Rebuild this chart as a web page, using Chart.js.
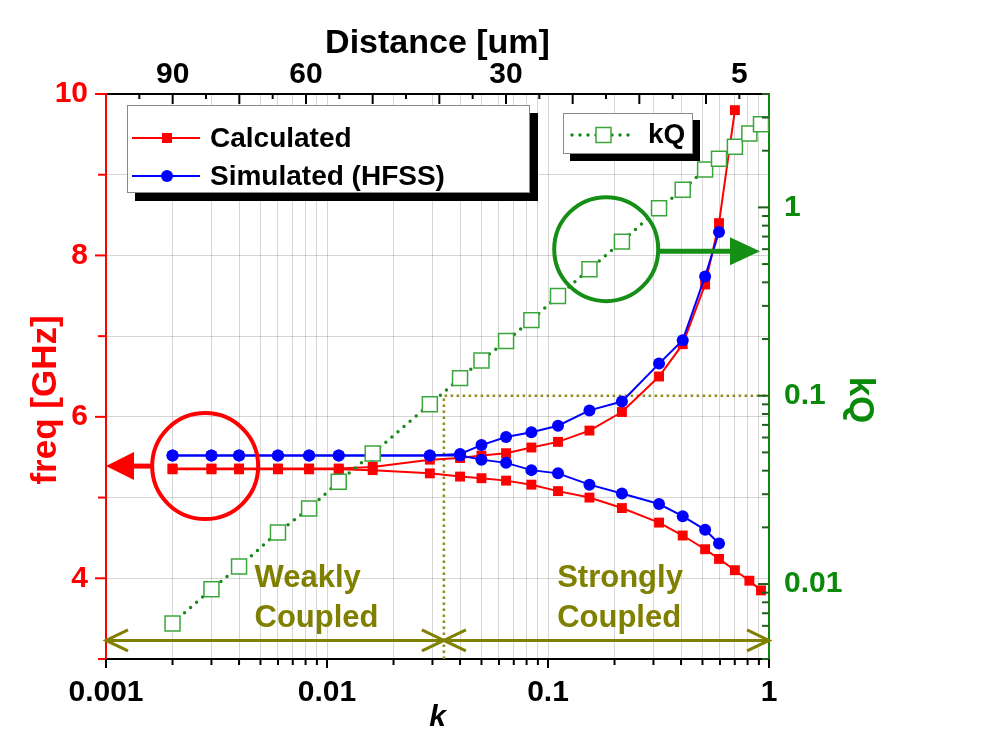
<!DOCTYPE html>
<html lang="en">
<head>
<meta charset="UTF-8">
<title>Coupled resonators - freq and kQ vs k</title>
<script src="https://cdn.jsdelivr.net/npm/chart.js@4.4.1/dist/chart.umd.min.js"></script>
<style>
  html, body { margin: 0; padding: 0; background: #fff; }
  .chart-box { position: relative; width: 986px; height: 753px; }
</style>
</head>
<body>
<div class="chart-box">
  <canvas id="freqChart" width="986" height="753"></canvas>
</div>
<script>
// coupling factor k of every point (bottom axis)
const kValues = [0.002, 0.003, 0.004, 0.006, 0.0083, 0.0113, 0.0161, 0.0292, 0.040, 0.050, 0.0646,
                 0.0841, 0.111, 0.154, 0.216, 0.318, 0.407, 0.514, 0.594, 0.701, 0.815, 0.92];

// Calculated (red), GHz - the two split modes
const calcUpper = [5.36, 5.36, 5.36, 5.36, 5.36, 5.36, 5.38, 5.47, 5.49, 5.52, 5.55, 5.62, 5.69, 5.83,
                   6.06, 6.50, 6.90, 7.64, 8.40, 9.80];
const calcLower = [5.35, 5.35, 5.35, 5.35, 5.35, 5.35, 5.34, 5.30, 5.26, 5.24, 5.21, 5.16, 5.08, 5.00,
                   4.87, 4.69, 4.53, 4.36, 4.24, 4.10, 3.97, 3.85];

// Simulated (HFSS, blue), GHz
const simUpper = [5.52, 5.52, 5.52, 5.52, 5.52, 5.52, 5.52, 5.52, 5.54, 5.65, 5.75, 5.81, 5.89, 6.08,
                  6.19, 6.66, 6.95, 7.74, 8.29];
const simLower = [5.52, 5.52, 5.52, 5.52, 5.52, 5.52, 5.52, 5.52, 5.52, 5.47, 5.43, 5.34, 5.30, 5.16,
                  5.05, 4.92, 4.77, 4.60, 4.43];

// kQ (right axis, log)
const kqValues = [0.00618, 0.00938, 0.0124, 0.0188, 0.0252, 0.0349, 0.0494, 0.0900, 0.124, 0.154, 0.195,
                  0.252, 0.338, 0.469, 0.658, 0.989, 1.24, 1.59, 1.81, 2.10, 2.47, 2.76];

// top axis: Distance [um], labelled at these tick indices
const topTickPos = [2, 6, 12, 19];
const topTickLabels = ['90', '60', '30', '5'];

// kQ = 0.1 boundary between weak and strong coupling
const crossoverK = 0.0338;
const kqThreshold = 0.1;
const arrowFreq = 3.23;

const RED = '#ff0000';
const BLUE = '#0000ff';
const GREEN = '#0a8a0a';
const OLIVE = '#808000';
const FONT = "'Liberation Sans', Arial, Helvetica, sans-serif";
Chart.defaults.font.family = FONT;

const toPoints = (ys) => ys.map((y, i) => ({ x: kValues[i], y: y }));

function logTicks(lo, hi) {
  const out = [];
  for (let e = Math.floor(Math.log10(lo) + 1e-9); e <= Math.floor(Math.log10(hi) + 1e-9); e++) {
    for (let m = 1; m <= 9; m++) {
      const v = Number((m * Math.pow(10, e)).toPrecision(3));
      if (v >= lo * 0.9999 && v <= hi * 1.0001) out.push(v);
    }
  }
  return out;
}
const isDecade = v => Math.abs(Math.log10(v) - Math.round(Math.log10(v))) < 1e-6;

function seg(ctx, x1, y1, x2, y2) {
  ctx.beginPath();
  ctx.moveTo(x1, y1);
  ctx.lineTo(x2, y2);
  ctx.stroke();
}

function chevron(ctx, tipX, y, dir) {
  // dir = 1 -> points left, dir = -1 -> points right
  ctx.beginPath();
  ctx.moveTo(tipX + dir * 22, y - 10.5);
  ctx.lineTo(tipX, y);
  ctx.lineTo(tipX + dir * 22, y + 10.5);
  ctx.stroke();
}

function legendBox(ctx, x, y, w, h, sh) {
  ctx.fillStyle = '#000';
  ctx.fillRect(x + sh, y + sh, w, h);
  ctx.fillStyle = '#fff';
  ctx.fillRect(x, y, w, h);
  ctx.strokeStyle = '#8a8a8a';
  ctx.lineWidth = 1;
  ctx.strokeRect(x + 0.5, y + 0.5, w - 1, h - 1);
}

const decorations = {
  id: 'decorations',
  afterDatasetsDraw(chart) {
    const { ctx, chartArea: a } = chart;
    const { x, xTop, yL, yR } = chart.scales;
    ctx.save();

    // tick marks
    ctx.lineWidth = 2;
    ctx.strokeStyle = '#000';
    logTicks(x.min, x.max).forEach(v => {
      const px = x.getPixelForValue(v);
      seg(ctx, px, a.bottom, px, a.bottom + (isDecade(v) ? 9 : 6));
    });
    for (let n = 1; n <= Math.floor(xTop.max); n++) {
      const px = xTop.getPixelForValue(n);
      seg(ctx, px, a.top, px, a.top + (n % 2 === 0 ? 10 : 5));
    }
    ctx.strokeStyle = RED;
    for (let f = yL.min; f <= yL.max; f++) {
      const py = yL.getPixelForValue(f);
      seg(ctx, a.left - (f % 2 === 0 ? 11 : 8), py, a.left, py);
    }
    ctx.strokeStyle = '#1e5e1e';
    logTicks(yR.min, yR.max).forEach(v => {
      const py = yR.getPixelForValue(v);
      seg(ctx, a.right - (isDecade(v) ? 11 : 7), py, a.right, py);
    });

    // weak / strong double arrows
    const ay = yL.getPixelForValue(arrowFreq);
    const cx = x.getPixelForValue(crossoverK);
    ctx.strokeStyle = OLIVE;
    ctx.lineWidth = 3;
    seg(ctx, a.left, ay, a.right, ay);
    chevron(ctx, a.left, ay, 1);
    chevron(ctx, cx, ay, -1);
    chevron(ctx, cx, ay, 1);
    chevron(ctx, a.right, ay, -1);

    // region labels
    ctx.fillStyle = OLIVE;
    ctx.font = 'bold 31px ' + FONT;
    ctx.textAlign = 'left';
    ctx.textBaseline = 'middle';
    [[0.0047, 'Weakly'], [0.110, 'Strongly']].forEach(([k, word]) => {
      const px = x.getPixelForValue(k);
      ctx.fillText(word, px, yL.getPixelForValue(4.0));
      ctx.fillText('Coupled', px, yL.getPixelForValue(3.5));
    });

    // red circle + arrow to left axis
    const rx = x.getPixelForValue(0.00281), ry = yL.getPixelForValue(5.39);
    ctx.strokeStyle = RED;
    ctx.fillStyle = RED;
    ctx.lineWidth = 4;
    ctx.beginPath();
    ctx.arc(rx, ry, 53, 0, Math.PI * 2);
    ctx.stroke();
    ctx.lineWidth = 5;
    seg(ctx, rx - 53, ry, a.left + 27, ry);
    ctx.beginPath();
    ctx.moveTo(a.left + 28, ry - 14);
    ctx.lineTo(a.left, ry);
    ctx.lineTo(a.left + 28, ry + 14);
    ctx.closePath();
    ctx.fill();

    // green circle + arrow to right axis
    const gx = x.getPixelForValue(0.1834), gy = yR.getPixelForValue(0.60);
    ctx.strokeStyle = '#168f16';
    ctx.fillStyle = '#168f16';
    ctx.lineWidth = 4;
    ctx.beginPath();
    ctx.arc(gx, gy, 52, 0, Math.PI * 2);
    ctx.stroke();
    ctx.lineWidth = 5;
    seg(ctx, gx + 52, gy + 2, a.right - 38, gy + 2);
    ctx.beginPath();
    ctx.moveTo(a.right - 39, gy + 2 - 14);
    ctx.lineTo(a.right - 9, gy + 2);
    ctx.lineTo(a.right - 39, gy + 2 + 14);
    ctx.closePath();
    ctx.fill();

    // legend 1
    const lx = a.left + 21, ly = a.top + 11;
    legendBox(ctx, lx, ly, 403, 88, 8);
    ctx.lineWidth = 2;
    ctx.font = 'bold 28px ' + FONT;
    ctx.textAlign = 'left';
    ctx.textBaseline = 'middle';
    const rows = [[ly + 33, RED, 'rect', 'Calculated'], [ly + 71, BLUE, 'circle', 'Simulated (HFSS)']];
    rows.forEach(([yy, col, shape, label]) => {
      ctx.strokeStyle = col;
      ctx.fillStyle = col;
      seg(ctx, lx + 5, yy, lx + 73, yy);
      ctx.beginPath();
      if (shape === 'rect') ctx.rect(lx + 35, yy - 5, 10, 10);
      else ctx.arc(lx + 40, yy, 6, 0, Math.PI * 2);
      ctx.fill();
      ctx.fillStyle = '#000';
      ctx.fillText(label, lx + 83, yy + 1);
    });

    // legend 2
    const kx = a.left + 457, ky = a.top + 19;
    legendBox(ctx, kx, ky, 130, 41, 7);
    const my = ky + 22;
    ctx.strokeStyle = '#1a8a1a';
    ctx.lineWidth = 3.5;
    ctx.lineCap = 'round';
    ctx.setLineDash([0, 8]);
    seg(ctx, kx + 9, my, kx + 69, my);
    ctx.setLineDash([]);
    ctx.lineCap = 'butt';
    ctx.fillStyle = '#fff';
    ctx.strokeStyle = '#3aa63a';
    ctx.lineWidth = 1.5;
    ctx.fillRect(kx + 33, my - 7.5, 15, 15);
    ctx.strokeRect(kx + 33, my - 7.5, 15, 15);
    ctx.fillStyle = '#000';
    ctx.font = 'bold 28px ' + FONT;
    ctx.fillText('kQ', kx + 85, my);

    // vertical axis titles
    ctx.textAlign = 'center';
    ctx.textBaseline = 'middle';
    ctx.font = 'bold 35px ' + FONT;
    ctx.fillStyle = RED;
    ctx.save();
    ctx.translate(46, 400);
    ctx.rotate(-Math.PI / 2);
    ctx.fillText('freq [GHz]', 0, 0);
    ctx.restore();
    ctx.fillStyle = GREEN;
    ctx.save();
    ctx.translate(860, 400);
    ctx.rotate(Math.PI / 2);
    ctx.fillText('kQ', 0, 0);
    ctx.restore();

    ctx.restore();
  }
};

const ctx = document.getElementById('freqChart').getContext('2d');
const chart = new Chart(ctx, {
  type: 'line',
  data: {
    datasets: [
      {
        label: 'kQ', data: toPoints(kqValues), yAxisID: 'yR', order: 0, clip: false,
        borderColor: '#1a8a1a', borderWidth: 3.5, borderDash: [0, 8], borderCapStyle: 'round',
        pointStyle: 'rect', pointRadius: 10.6, pointBorderWidth: 1.5,
        pointBorderColor: '#3aa63a', pointBackgroundColor: '#fff'
      },
      {
        label: 'Simulated (HFSS)', data: toPoints(simUpper), yAxisID: 'yL', order: 1,
        borderColor: BLUE, borderWidth: 2, pointStyle: 'circle', pointRadius: 6,
        pointBackgroundColor: BLUE, pointBorderWidth: 0
      },
      {
        label: 'Simulated lower', data: toPoints(simLower), yAxisID: 'yL', order: 1,
        borderColor: BLUE, borderWidth: 2, pointStyle: 'circle', pointRadius: 6,
        pointBackgroundColor: BLUE, pointBorderWidth: 0
      },
      {
        label: 'Calculated', data: toPoints(calcUpper), yAxisID: 'yL', order: 2,
        borderColor: RED, borderWidth: 2, pointStyle: 'rect', pointRadius: 7,
        pointBackgroundColor: RED, pointBorderWidth: 0
      },
      {
        label: 'Calculated lower', data: toPoints(calcLower), yAxisID: 'yL', order: 2,
        borderColor: RED, borderWidth: 2, pointStyle: 'rect', pointRadius: 7,
        pointBackgroundColor: RED, pointBorderWidth: 0
      },
      {
        label: 'kQ = 0.1', yAxisID: 'yR', order: 3,
        data: [{ x: crossoverK, y: 0.004 }, { x: crossoverK, y: kqThreshold }, { x: 1, y: kqThreshold }],
        borderColor: '#8c8c1c', borderWidth: 2.5, borderDash: [2.5, 3.5], pointRadius: 0
      }
    ]
  },
  options: {
    responsive: false,
    animation: false,
    layout: { padding: 0 },
    plugins: { legend: { display: false }, tooltip: { enabled: false } },
    elements: { line: { tension: 0 } },
    scales: {
      x: {
        type: 'logarithmic', position: 'bottom', min: 0.001, max: 1,
        afterBuildTicks: s => { s.ticks = logTicks(0.001, 1).map(v => ({ value: v })); },
        afterFit: s => { s.height = 94; },
        ticks: {
          autoSkip: false, maxRotation: 0, padding: 16, color: '#000',
          font: { size: 30, weight: 'bold' },
          callback: v => isDecade(v) ? String(v) : ''
        },
        grid: { color: 'rgba(0,0,0,0.16)', lineWidth: 1, drawTicks: false },
        border: { color: '#000', width: 2 },
        title: { display: true, text: 'k', color: '#000', padding: { top: 0, bottom: 17 },
                 font: { size: 30, weight: 'bold', style: 'italic' } }
      },
      xTop: {
        type: 'linear', position: 'top', min: 0, max: 19.89,
        afterBuildTicks: s => { s.ticks = topTickPos.map(v => ({ value: v })); },
        afterFit: s => { s.height = 94; },
        ticks: {
          autoSkip: false, maxRotation: 0, padding: 1, color: '#000',
          font: { size: 30, weight: 'bold' },
          callback: v => topTickLabels[topTickPos.indexOf(v)]
        },
        grid: { display: false, drawTicks: false },
        border: { color: '#000', width: 2 },
        title: { display: true, text: 'Distance [um]', color: '#000', padding: { top: 23, bottom: 0 },
                 font: { size: 34, weight: 'bold' } }
      },
      yL: {
        type: 'linear', position: 'left', min: 3, max: 10,
        afterFit: s => { s.width = 106; },
        ticks: {
          stepSize: 1, padding: 18, color: RED, font: { size: 30, weight: 'bold' },
          callback: v => v % 2 === 0 ? String(v) : ''
        },
        grid: { color: 'rgba(0,0,0,0.16)', lineWidth: 1, drawTicks: false },
        border: { color: RED, width: 2 }
      },
      yR: {
        type: 'logarithmic', position: 'right', min: 0.004, max: 4,
        afterBuildTicks: s => { s.ticks = [0.01, 0.1, 1].map(v => ({ value: v })); },
        afterFit: s => { s.width = 217; },
        ticks: {
          padding: 15, color: GREEN, font: { size: 30, weight: 'bold' },
          callback: v => String(v)
        },
        grid: { display: false, drawTicks: false },
        border: { color: GREEN, width: 2 }
      }
    }
  },
  plugins: [decorations]
});
</script>
</body>
</html>
